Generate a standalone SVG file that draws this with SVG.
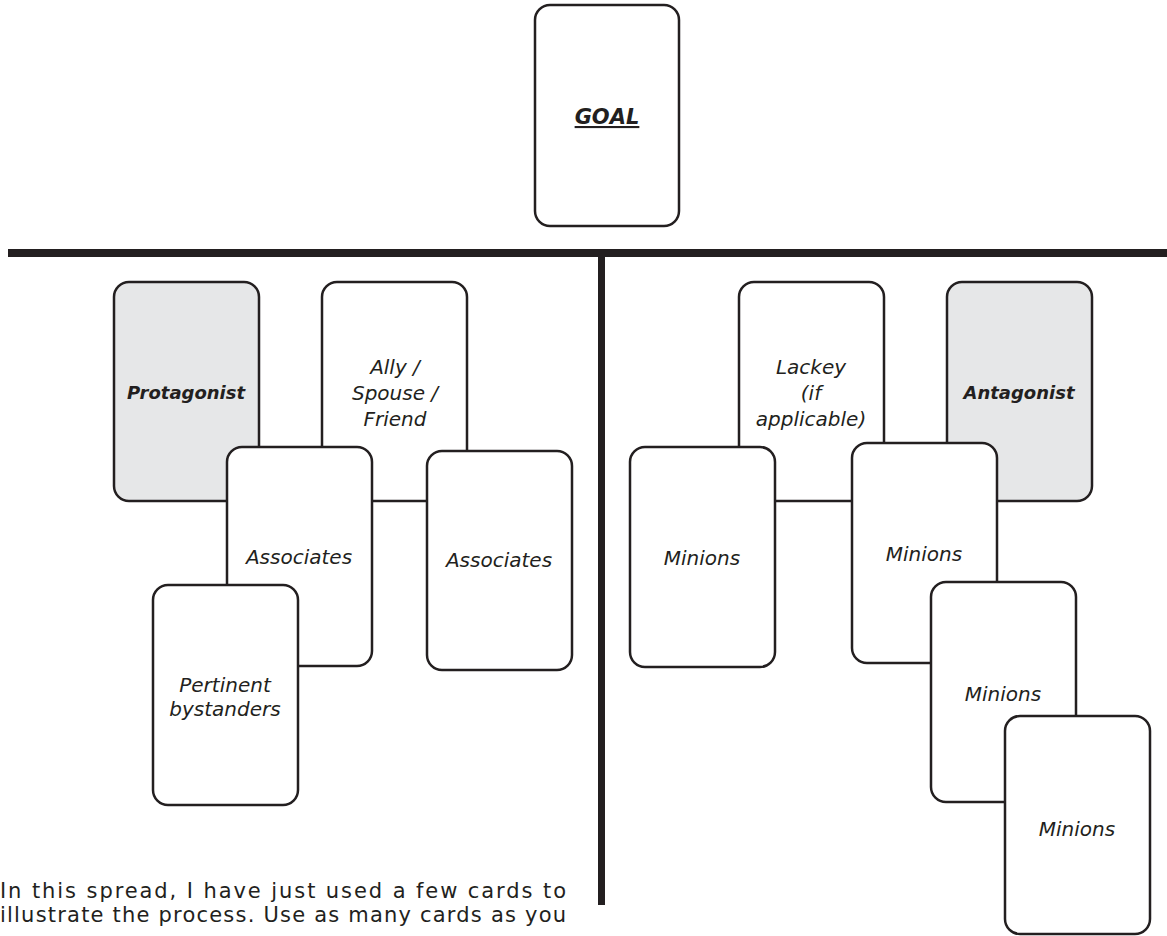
<svg xmlns="http://www.w3.org/2000/svg" width="1167" height="936" viewBox="0 0 1167 936">
<style>
.card{fill:#ffffff;stroke:#231f20;stroke-width:2.5}
.gray{fill:#e6e7e8}
.t{font-family:"DejaVu Sans",sans-serif;font-style:italic;font-size:20px;fill:#231f20;text-anchor:middle}
.b{font-weight:bold;font-size:18px}
.bar{fill:#231f20}
.note{font-family:"DejaVu Sans",sans-serif;font-size:21px;fill:#231f20}
</style>
<rect width="1167" height="936" fill="#ffffff"/>
<g id="goal">
<rect class="card" x="535" y="5" width="144" height="221" rx="15"/>
<text class="t b" x="607" y="124" style="font-size:21px" text-decoration="underline">GOAL</text>
</g>
<g id="connectors">
<rect class="bar" x="8" y="249" width="1159" height="8"/>
<rect class="bar" x="598" y="257" width="7" height="648"/>
</g>
<g id="protagonist">
<rect class="card gray" x="114" y="282" width="145" height="219" rx="15"/>
<text class="t b" x="186" y="399">Protagonist</text>
</g>
<g id="ally">
<rect class="card" x="322" y="282" width="145" height="219" rx="15"/>
<text class="t" x="395" y="374">Ally /</text>
<text class="t" x="395" y="400">Spouse /</text>
<text class="t" x="395" y="426">Friend</text>
</g>
<g id="associates1">
<rect class="card" x="227" y="447" width="145" height="219" rx="15"/>
<text class="t" x="299" y="564">Associates</text>
</g>
<g id="associates2">
<rect class="card" x="427" y="451" width="145" height="219" rx="15"/>
<text class="t" x="499" y="567">Associates</text>
</g>
<g id="bystanders">
<rect class="card" x="153" y="585" width="145" height="220" rx="15"/>
<text class="t" x="225" y="692">Pertinent</text>
<text class="t" x="225" y="716">bystanders</text>
</g>
<g id="lackey">
<rect class="card" x="739" y="282" width="145" height="219" rx="15"/>
<text class="t" x="811" y="374">Lackey</text>
<text class="t" x="811" y="400">(if</text>
<text class="t" x="811" y="426">applicable)</text>
</g>
<g id="antagonist">
<rect class="card gray" x="947" y="282" width="145" height="219" rx="15"/>
<text class="t b" x="1019" y="399">Antagonist</text>
</g>
<g id="minions1">
<rect class="card" x="630" y="447" width="145" height="220" rx="15"/>
<text class="t" x="702" y="565">Minions</text>
</g>
<g id="minions2">
<rect class="card" x="852" y="443" width="145" height="220" rx="15"/>
<text class="t" x="924" y="561">Minions</text>
</g>
<g id="minions3">
<rect class="card" x="931" y="582" width="145" height="220" rx="15"/>
<text class="t" x="1003" y="701">Minions</text>
</g>
<g id="minions4">
<rect class="card" x="1005" y="716" width="145" height="218" rx="15"/>
<text class="t" x="1077" y="836">Minions</text>
</g>
<g id="note">
<text class="note" x="0" y="898" textLength="566" lengthAdjust="spacing">In this spread, I have just used a few cards to</text>
<text class="note" x="0" y="922" textLength="566" lengthAdjust="spacing">illustrate the process. Use as many cards as you</text>
</g>
</svg>
